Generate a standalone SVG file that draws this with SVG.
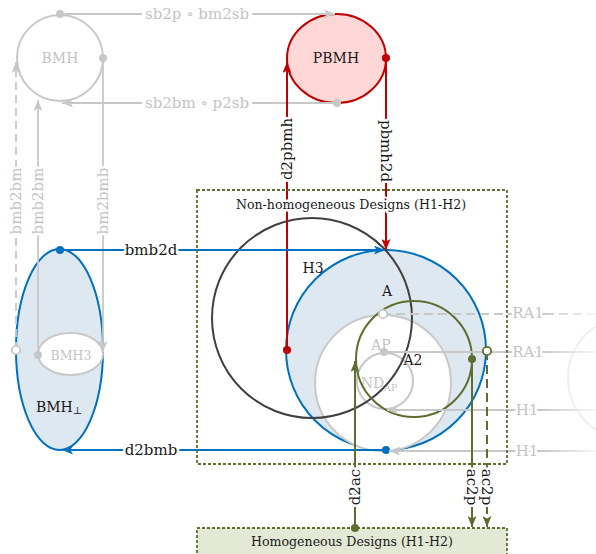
<svg xmlns="http://www.w3.org/2000/svg" width="596" height="554" viewBox="0 0 596 554">
<defs>
<style>
text{font-family:"DejaVu Serif","Liberation Serif",serif;fill:#1a1a1a}
.lbl{font-size:15px;dominant-baseline:central;text-anchor:middle;paint-order:stroke;stroke:#fff;stroke-width:5px;stroke-linejoin:round}
.gt{fill:#c4c4c4}
.nl{font-size:14px;text-anchor:middle;dominant-baseline:central}
.g{stroke:#c8c8c8;stroke-width:1.8;fill:none}
.r{stroke:#c00000;stroke-width:2;fill:none}
.b{stroke:#0070c0;stroke-width:2;fill:none}
.o{stroke:#5e6e30;stroke-width:2;fill:none}
.f{stroke:url(#fade);stroke-width:1.8;fill:none}
.dash{stroke-dasharray:9 5}
.box{fill:none;stroke:#5e6e30;stroke-width:1.8;stroke-dasharray:3 2}
</style>
<linearGradient id="fade" gradientUnits="userSpaceOnUse" x1="540" y1="0" x2="596" y2="0"><stop offset="0" stop-color="#c8c8c8"/><stop offset="1" stop-color="#f6f6f6"/></linearGradient>
<marker id="ag" viewBox="0 0 11 9" refX="11" refY="4.5" markerWidth="11" markerHeight="9" orient="auto" markerUnits="userSpaceOnUse"><path d="M0,0L11,4.5L0,9L2.5,4.5z" fill="#c8c8c8"/></marker>
<marker id="ar" viewBox="0 0 11 9" refX="11" refY="4.5" markerWidth="11" markerHeight="9" orient="auto" markerUnits="userSpaceOnUse"><path d="M0,0L11,4.5L0,9L2.5,4.5z" fill="#c00000"/></marker>
<marker id="ab" viewBox="0 0 11 9" refX="11" refY="4.5" markerWidth="11" markerHeight="9" orient="auto" markerUnits="userSpaceOnUse"><path d="M0,0L11,4.5L0,9L2.5,4.5z" fill="#0070c0"/></marker>
<marker id="ao" viewBox="0 0 11 9" refX="11" refY="4.5" markerWidth="11" markerHeight="9" orient="auto" markerUnits="userSpaceOnUse"><path d="M0,0L11,4.5L0,9L2.5,4.5z" fill="#5e6e30"/></marker>
<marker id="dg" viewBox="-5 -5 10 10" markerWidth="10" markerHeight="10" markerUnits="userSpaceOnUse"><circle r="4" fill="#c8c8c8"/></marker>
<marker id="dr" viewBox="-5 -5 10 10" markerWidth="10" markerHeight="10" markerUnits="userSpaceOnUse"><circle r="4" fill="#c00000"/></marker>
<marker id="db" viewBox="-5 -5 10 10" markerWidth="10" markerHeight="10" markerUnits="userSpaceOnUse"><circle r="4" fill="#0070c0"/></marker>
<marker id="do" viewBox="-5 -5 10 10" markerWidth="10" markerHeight="10" markerUnits="userSpaceOnUse"><circle r="4" fill="#5e6e30"/></marker>
<marker id="og" viewBox="-6 -6 12 12" markerWidth="12" markerHeight="12" markerUnits="userSpaceOnUse"><circle r="4.2" fill="#fff" stroke="#c8c8c8" stroke-width="1.8"/></marker>
<marker id="oo" viewBox="-6 -6 12 12" markerWidth="12" markerHeight="12" markerUnits="userSpaceOnUse"><circle r="4.2" fill="#fff" stroke="#5e6e30" stroke-width="1.8"/></marker>
</defs>

<g id="external"><circle cx="630" cy="378" r="62" fill="none" stroke="#efefef" stroke-width="2"/></g>

<g id="BMH"><circle cx="60" cy="58" r="43" fill="#fff" stroke="#c8c8c8" stroke-width="2"/><text x="60" y="58" class="nl gt">BMH</text></g>
<g id="PBMH"><ellipse cx="336.5" cy="58.5" rx="49.5" ry="44.5" fill="#ffd7d7" stroke="#c00000" stroke-width="2"/><text x="336" y="58" class="nl">PBMH</text></g>
<g id="BMH-perp"><ellipse cx="59.5" cy="349.5" rx="43.5" ry="100.5" fill="#dee8f1" stroke="#0070c0" stroke-width="2"/><text x="59" y="407" class="nl">BMH<tspan font-size="10" dy="3">⊥</tspan></text></g>
<g id="BMH3"><ellipse cx="70.5" cy="354" rx="32.5" ry="21" fill="#fff" stroke="#c8c8c8" stroke-width="2"/><text x="71" y="355" class="nl gt" style="font-size:12.5px">BMH3</text></g>

<g id="D"><circle cx="386" cy="350" r="100" fill="#dee8f1" stroke="#0070c0" stroke-width="2"/></g>
<g id="A"><circle cx="383" cy="383" r="68" fill="#fff" stroke="#c8c8c8" stroke-width="2"/><text x="387" y="291" class="nl">A</text></g>
<g id="NDAP"><circle cx="385" cy="381" r="28" fill="none" stroke="#c8c8c8" stroke-width="2"/><text x="379" y="383" class="nl gt" style="font-size:14px">ND<tspan font-size="9.5" dy="4">AP</tspan></text></g>
<g id="AP"><text x="381" y="345" class="nl gt">AP</text></g>
<g id="H3"><circle cx="312" cy="318" r="100" fill="none" stroke="#404040" stroke-width="2"/><text x="313" y="268" class="nl">H3</text></g>
<g id="A2"><circle cx="414" cy="359" r="58" fill="none" stroke="#5e6e30" stroke-width="2"/><text x="413" y="360" class="nl">A2</text></g>

<g id="homogeneous"><rect x="197" y="528" width="310" height="40" fill="#e3e9d4" stroke="#5e6e30" stroke-width="1.8" stroke-dasharray="3 2"/><text x="352" y="541" font-size="12.6" text-anchor="middle" dominant-baseline="central">Homogeneous Designs (H1-H2)</text></g>

<g id="connectors">
<path class="g" d="M60,14H142" marker-start="url(#dg)"/>
<path class="g" d="M252,14H335" marker-end="url(#ag)"/>
<text class="lbl gt" x="197" y="14">sb2p ∘ bm2sb</text>
<path class="g" d="M337,103H252" marker-start="url(#dg)"/>
<path class="g" d="M142,103H62" marker-end="url(#ag)"/>
<text class="lbl gt" x="197" y="103">sb2bm ∘ p2sb</text>
<path class="g" d="M16,350V62" stroke-dasharray="8 5" marker-end="url(#ag)"/>
<path class="g" d="M16,350V349" marker-start="url(#og)"/>
<text class="lbl gt" transform="translate(16,201) rotate(-90)">bmb2bm</text>
<path class="g" d="M38,355V100" marker-start="url(#dg)" marker-end="url(#ag)"/>
<text class="lbl gt" transform="translate(38,201) rotate(-90)">bmb2bm</text>
<path class="g" d="M103,58V352" marker-start="url(#dg)" marker-end="url(#ag)"/>
<text class="lbl gt" transform="translate(103,201) rotate(-90)">bm2bmb</text>

<path class="r" d="M287,350V62" marker-start="url(#dr)" marker-end="url(#ar)"/>
<text class="lbl" transform="translate(287,149) rotate(-90)">d2pbmh</text>
<path class="r" d="M386,58V250" marker-start="url(#dr)" marker-end="url(#ar)"/>
<text class="lbl" transform="translate(386,151) rotate(90)">pbmh2d</text>

<path class="b" d="M60,250H385" marker-start="url(#db)" marker-end="url(#ab)"/>
<text class="lbl" x="151" y="250">bmb2d</text>
<path class="b" d="M386,450H62" marker-start="url(#db)" marker-end="url(#ab)"/>
<text class="lbl" x="151" y="450">d2bmb</text>

<path class="g dash" d="M545,314H383"/>
<path class="f dash" d="M545,314H596"/>
<path class="g" d="M383,314H384" marker-start="url(#og)"/>
<text class="lbl gt" x="528" y="313">RA1</text>
<path class="g" d="M384,352H545" marker-start="url(#dg)"/>
<path class="f" d="M545,352H596"/>
<text class="lbl gt" x="528" y="352">RA1</text>
<path class="g" d="M545,410H387" marker-end="url(#ag)"/>
<path class="f" d="M545,410H596"/>
<text class="lbl gt" x="527" y="410">H1</text>
<path class="g" d="M545,451H389" marker-end="url(#ag)"/>
<path class="f" d="M545,451H596"/>
<text class="lbl gt" x="527" y="451">H1</text>

<path class="o" d="M355,528V361" marker-start="url(#do)" marker-end="url(#ao)"/>
<text class="lbl" transform="translate(355,487) rotate(-90)">d2ac</text>
<path class="o" d="M472,359V527" marker-start="url(#do)" marker-end="url(#ao)"/>
<text class="lbl" transform="translate(472,487) rotate(90)">ac2p</text>
<path class="o dash" d="M487,351V527" marker-end="url(#ao)"/>
<path class="o" d="M487,351V352" marker-start="url(#oo)"/>
<text class="lbl" transform="translate(487,487) rotate(90)">ac2p</text>
</g>

<g id="non-homogeneous"><rect class="box" x="197" y="190" width="310" height="274"/><text x="351" y="204" font-size="12.6" text-anchor="middle" dominant-baseline="central" style="paint-order:stroke;stroke:#fff;stroke-width:5px;stroke-linejoin:round">Non-homogeneous Designs (H1-H2)</text></g>
</svg>
